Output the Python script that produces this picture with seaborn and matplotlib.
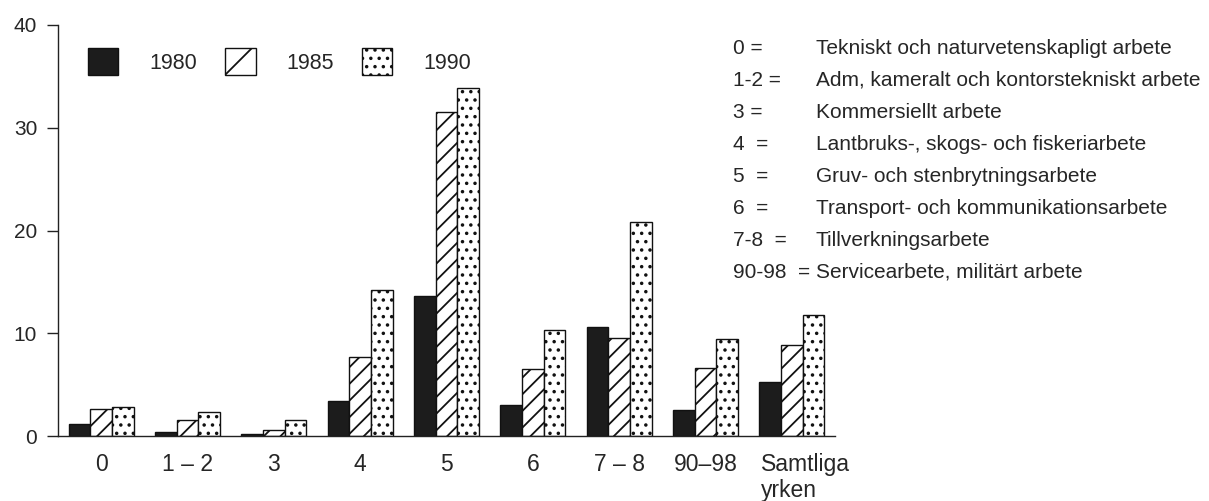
import pandas as pd
import matplotlib
matplotlib.use("Agg")
import matplotlib.pyplot as plt
from matplotlib.patches import Patch
from matplotlib.transforms import ScaledTranslation
import seaborn as sns

# Data
grupper = ["0", "1 – 2", "3", "4", "5", "6", "7 – 8", "90–98", "Samtliga\nyrken"]
ar = ["1980", "1985", "1990"]
v1980 = [1.2, 0.4, 0.2, 3.4, 13.6, 3.0, 10.6, 2.5, 5.3]
v1985 = [2.6, 1.6, 0.6, 7.7, 31.5, 6.5, 9.5, 6.6, 8.9]
v1990 = [2.8, 2.3, 1.6, 14.2, 33.9, 10.3, 20.8, 9.4, 11.8]

koder = ["0 =", "1-2 =", "3 =", "4  =", "5  =", "6  =", "7-8  =", "90-98  ="]
beskrivningar = [
    "Tekniskt och naturvetenskapligt arbete",
    "Adm, kameralt och kontorstekniskt arbete",
    "Kommersiellt arbete",
    "Lantbruks-, skogs- och fiskeriarbete",
    "Gruv- och stenbrytningsarbete",
    "Transport- och kommunikationsarbete",
    "Tillverkningsarbete",
    "Servicearbete, militärt arbete",
]

sns.set_style("white")
plt.rcParams["font.family"] = ["Liberation Sans", "DejaVu Sans"]
plt.rcParams["hatch.linewidth"] = 1.3

df = pd.DataFrame({
    "grupp": grupper * 3,
    "ar": [a for a in ar for _ in grupper],
    "varde": v1980 + v1985 + v1990,
})

fig = plt.figure(figsize=(12.09, 5.01), dpi=100)
ax = fig.add_axes([58 / 1209, 1 - 436 / 501, 777 / 1209, 411 / 501])

sns.barplot(data=df, x="grupp", y="varde", hue="ar", order=grupper, hue_order=ar,
            palette=["#1c1c1c", "white", "white"], width=0.75, saturation=1,
            edgecolor="black", linewidth=1, ax=ax)

hatchar = ["", "//", ".."]
for cont, h in zip(ax.containers, hatchar):
    for bar in cont:
        bar.set_hatch(h)
        bar.set_edgecolor("#111111")

ax.set_xlim(-0.5, 8.5)
ax.set_ylim(0, 40)
ax.set_yticks([0, 10, 20, 30, 40])
ax.set_xlabel("")
ax.set_ylabel("")
sns.despine(ax=ax)
for s in ["left", "bottom"]:
    ax.spines[s].set_color("#222222")
    ax.spines[s].set_linewidth(1)
ax.tick_params(axis="y", direction="out", length=8, width=1, color="#222222",
               labelsize=15, pad=7, left=True)
ax.tick_params(axis="x", length=0, labelsize=16.5, pad=12)
xlabels = ax.get_xticklabels()
for lbl in xlabels:
    lbl.set_multialignment("left")
# "Samtliga yrken" står lite till höger om sin grupp
xlabels[-1].set_transform(xlabels[-1].get_transform()
                          + ScaledTranslation(0.14, 0, fig.dpi_scale_trans))

ax.legend_.remove()
handles = [
    Patch(facecolor="#1c1c1c", edgecolor="#111111"),
    Patch(facecolor="white", edgecolor="#111111", hatch="/"),
    Patch(facecolor="white", edgecolor="#111111", hatch=".."),
]
ax.legend(handles, ar, ncol=3, loc="upper left", bbox_to_anchor=(0.039, 0.944),
          frameon=False, fontsize=15.5, handlelength=1.4, handleheight=1.55,
          handletextpad=1.45, columnspacing=1.3, borderpad=0, borderaxespad=0)

for i, (k, b) in enumerate(zip(koder, beskrivningar)):
    y = 1 - (48 + 32 * i) / 501
    fig.text(733 / 1209, y, k, fontsize=15, va="center", ha="left")
    fig.text(816 / 1209, y, b, fontsize=15, va="center", ha="left")

fig.savefig("out.png", dpi=100)
